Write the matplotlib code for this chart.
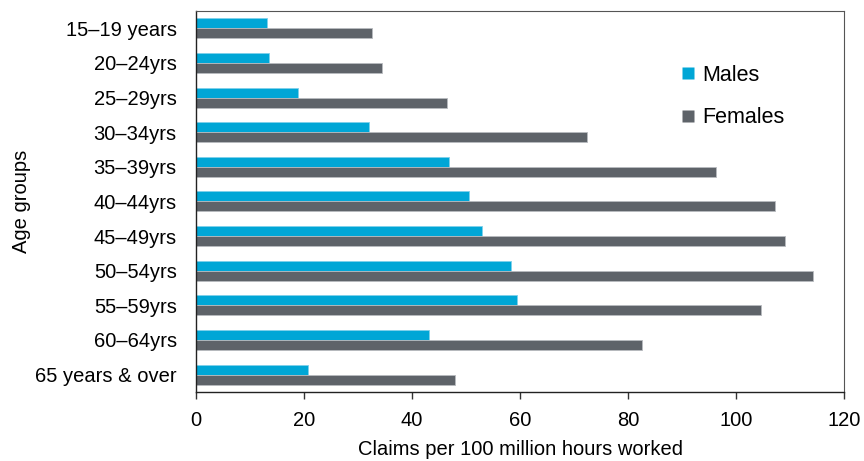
import numpy as np
import matplotlib.pyplot as plt
from matplotlib.lines import Line2D

plt.rcParams['font.family'] = ['Liberation Sans', 'DejaVu Sans']

age_groups = ['15–19 years', '20–24yrs', '25–29yrs', '30–34yrs', '35–39yrs',
              '40–44yrs', '45–49yrs', '50–54yrs', '55–59yrs', '60–64yrs',
              '65 years & over']
males = [13.1, 13.5, 18.9, 32.0, 46.9, 50.5, 53.0, 58.3, 59.5, 43.2, 20.8]
females = [32.5, 34.5, 46.5, 72.3, 96.3, 107.2, 109.1, 114.3, 104.6, 82.5, 48.0]

male_col = '#00A6D6'
female_col = '#5E6369'
fs = 14.5

fig = plt.figure(figsize=(8.64, 4.61), dpi=100)
ax = fig.add_axes([0.227, 0.150, 0.750, 0.826])

y = np.arange(len(age_groups))
h = 0.29
ax.barh(y - h / 2, males, height=h, color=male_col, edgecolor='#7fd0ea', linewidth=0.6)
ax.barh(y + h / 2, females, height=h, color=female_col, edgecolor='#b8bbbf', linewidth=0.6)

ax.set_ylim(10.5, -0.5)
ax.set_xlim(0, 120)
ax.set_xticks(range(0, 121, 20))
ax.set_yticks(y)
ax.set_yticklabels(age_groups)

ax.tick_params(axis='y', length=0, pad=14, labelsize=fs)
ax.tick_params(axis='x', direction='out', length=5, width=1, color='#333333',
               pad=9, labelsize=fs)
for s in ax.spines.values():
    s.set_color('#222222')
    s.set_linewidth(1.0)
ax.spines['top'].set_color('#555555')
ax.spines['right'].set_color('#555555')
ax.spines['top'].set_linewidth(0.8)
ax.spines['right'].set_linewidth(0.8)

ax.set_xlabel('Claims per 100 million hours worked', fontsize=fs, labelpad=7)
ax.set_ylabel('Age groups', fontsize=fs, labelpad=3)

handles = [Line2D([], [], linestyle='none', marker='s', markersize=9,
                  markerfacecolor=male_col, markeredgecolor='none'),
           Line2D([], [], linestyle='none', marker='s', markersize=9,
                  markerfacecolor=female_col, markeredgecolor='none')]
ax.legend(handles, ['Males', 'Females'], loc='upper left',
          bbox_to_anchor=(0.71, 0.91), frameon=False, fontsize=15.5,
          labelspacing=1.0, handletextpad=0.05, handlelength=1.2)

fig.savefig('out.png', dpi=100)
